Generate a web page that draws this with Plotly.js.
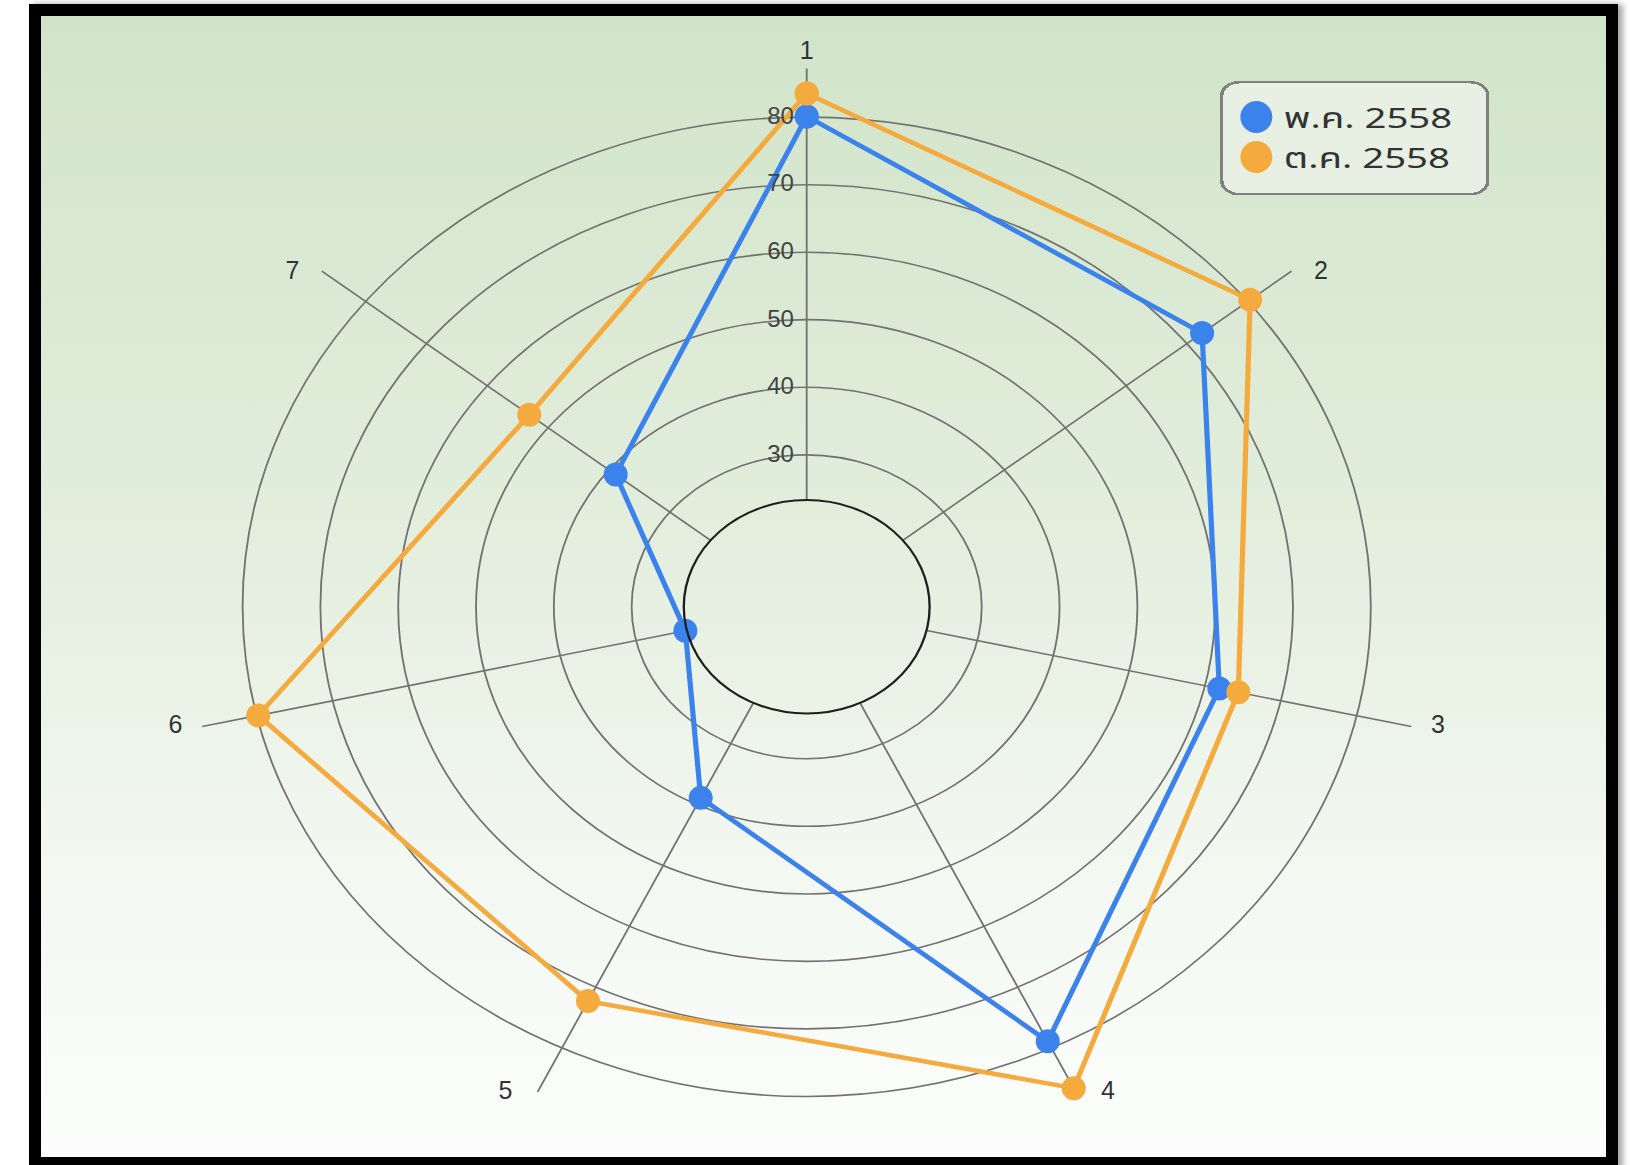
<!DOCTYPE html>
<html>
<head>
<meta charset="utf-8">
<script src="https://cdn.plot.ly/plotly-3.0.1.min.js"></script>
<style>
  html, body { margin: 0; padding: 0; background: #ffffff; width: 1630px; height: 1165px; overflow: hidden; }
  #frame {
    position: absolute; left: 29px; top: 4px; width: 1565px; height: 1141px;
    border: 12px solid #000;
    background: linear-gradient(to bottom, #d1e4c9 0%, #e3eedd 45%, #f3f8f1 75%, #fcfdfc 100%);
    box-shadow: 5px 0 6px rgba(0,0,0,0.35);
  }
  #chart { position: absolute; left: 0; top: 0; width: 1630px; height: 1165px; }
  .legend .legendlines { display: none; }
</style>
</head>
<body>
<div id="frame"></div>
<div id="chart"></div>
<script>
// ---- data ----
var categories = ['1', '2', '3', '4', '5', '6', '7'];
var seriesNames = ['พ.ค. 2558', 'ต.ค. 2558'];
var mayValues = [80.1, 72.5, 61.9, 78.9, 38.9, 23.5, 38.9];
var octValues = [83.5, 80.4, 64.4, 86.6, 72.3, 79.8, 53.1];
var radialTicks = [30, 40, 50, 60, 70, 80];

function closed(arr) { return arr.concat([arr[0]]); }

var W = 1630, H = 1165;
var polarDomainX = [0.16466, 0.82515];
var polarDomainY = [0.01708, 0.94120];
var holeDomainX = [0.42945, 0.56037];
var holeDomainY = [0.38755, 0.57073];
var stretchX = 1.152;      // horizontal stretch of the radar (elliptical look)
var legendStretch = 1.37;  // horizontal stretch of the legend text
// small on-screen nudges (px) for the tick labels
var labelNudge = [[0, -4], [21, 4], [18, -8], [24, -20], [-24, -20], [-18, -8], [-21, 4]];
var radialNudge = [-6, -1];

var gridColor = '#727272';
var blue = '#3b82ec', orange = '#f4aa3c';

var data = [
  {
    type: 'scatterpolar', subplot: 'polar',
    name: seriesNames[0],
    r: closed(mayValues), theta: closed(categories),
    mode: 'lines+markers', cliponaxis: false,
    line: { color: blue, width: 4.5 },
    marker: { color: blue, size: 24 }
  },
  {
    type: 'scatterpolar', subplot: 'polar',
    name: seriesNames[1],
    r: closed(octValues), theta: closed(categories),
    mode: 'lines+markers', cliponaxis: false,
    line: { color: orange, width: 4.5 },
    marker: { color: orange, size: 24 }
  },
  {
    type: 'scatterpolar', subplot: 'polar2',
    r: [], theta: [], showlegend: false, hoverinfo: 'skip'
  }
];

var layout = {
  width: W, height: H,
  margin: { l: 0, r: 0, t: 0, b: 0 },
  paper_bgcolor: 'rgba(0,0,0,0)',
  plot_bgcolor: 'rgba(0,0,0,0)',
  font: { family: '"Liberation Sans", Arial, sans-serif', color: '#333' },
  showlegend: true,
  legend: {
    x: 0.7485, y: 0.9305, xanchor: 'left', yanchor: 'top',
    bgcolor: '#e8f0e4', bordercolor: '#808080', borderwidth: 2.5,
    font: { size: 28, color: '#333', family: 'Tahoma, "Noto Sans Thai", "Noto Sans", "DejaVu Sans", sans-serif' },
    tracegroupgap: 0
  },
  polar: {
    domain: { x: polarDomainX, y: polarDomainY },
    bgcolor: 'rgba(0,0,0,0)',
    hole: 0.19822,
    radialaxis: {
      range: [23.3, 87.2],
      tickvals: radialTicks,
      ticktext: radialTicks.map(String),
      angle: 90, side: 'counterclockwise', tickangle: 90,
      showline: false, ticks: '',
      gridcolor: gridColor, gridwidth: 1.6,
      tickfont: { size: 24, color: '#444' }
    },
    angularaxis: {
      type: 'category', categoryarray: categories,
      rotation: 90, direction: 'clockwise',
      showline: false, ticks: '',
      gridcolor: gridColor, gridwidth: 1.6,
      tickfont: { size: 25, color: '#333' }
    }
  },
  polar2: {
    domain: { x: holeDomainX, y: holeDomainY },
    bgcolor: 'rgba(0,0,0,0)',
    radialaxis: { visible: false },
    angularaxis: {
      showline: true, linecolor: '#1e1e1e', linewidth: 2,
      showgrid: false, showticklabels: false, ticks: ''
    }
  }
};

function parseTranslate(s) {
  var m = /translate\(\s*([-\d.e]+)[ ,]+([-\d.e]+)\s*\)/.exec(s || '');
  return m ? [parseFloat(m[1]), parseFloat(m[2])] : [0, 0];
}
// convert an on-screen shift into the element's parent coordinate frame
function localDelta(el, dx, dy) {
  var m = el.parentNode.getCTM();
  var det = m.a * m.d - m.b * m.c;
  return [(m.d * dx - m.c * dy) / det, (-m.b * dx + m.a * dy) / det];
}

var gd = document.getElementById('chart');
Plotly.newPlot(gd, data, layout, { staticPlot: true, displayModeBar: false }).then(function () {
  var cx = (polarDomainX[0] + polarDomainX[1]) / 2 * W;
  var k = stretchX;
  var radialStrings = radialTicks.map(String);
  var pl = gd.querySelector('.polarlayer');
  if (pl) {
    pl.setAttribute('transform', 'translate(' + cx + ',0) scale(' + k + ',1) translate(' + (-cx) + ',0)');
    pl.querySelectorAll('text').forEach(function (t) {
      var b = t.getBBox();
      var c = b.x + b.width / 2;
      var old = t.getAttribute('transform') || '';
      var pre = '';
      var txt = (t.textContent || '').trim();
      var idx = categories.indexOf(txt);
      var nudge = null;
      if (idx >= 0) nudge = labelNudge[idx];
      else if (radialStrings.indexOf(txt) >= 0) nudge = radialNudge;
      if (nudge) {
        var d = localDelta(t, nudge[0], nudge[1]);
        pre = 'translate(' + d[0] + ',' + d[1] + ') ';
      }
      t.setAttribute('transform', pre + old + ' translate(' + c + ',0) scale(' + (1 / k) + ',1) translate(' + (-c) + ',0)');
    });
    pl.querySelectorAll('path.point').forEach(function (p) {
      var old = p.getAttribute('transform') || '';
      p.setAttribute('transform', old + ' scale(' + (1 / k) + ',1)');
    });
  }
  var lg = gd.querySelector('g.legend');
  if (lg) {
    var kl = legendStretch;
    lg.setAttribute('transform', (lg.getAttribute('transform') || '') + ' scale(' + kl + ',1)');
    var sb = lg.querySelector('g.scrollbox');
    if (sb) sb.removeAttribute('clip-path');
    var items = lg.querySelectorAll('g.traces');
    var rowTop = 36, rowGap = 40;
    items.forEach(function (it, i) {
      var tr = parseTranslate(it.getAttribute('transform'));
      it.setAttribute('transform', 'translate(' + (tr[0] + 4) + ',' + (rowTop + i * rowGap) + ')');
    });
    var bg = lg.querySelector('rect.bg');
    if (bg) {
      bg.setAttribute('height', 112);
      bg.setAttribute('width', 266 / kl);
      bg.setAttribute('rx', 13);
      bg.setAttribute('ry', 13);
    }
    lg.querySelectorAll('.legendpoints path.scatterpts').forEach(function (p) {
      var old = p.getAttribute('transform') || '';
      p.setAttribute('transform', old + ' scale(' + (2 / kl) + ',2)');
    });
  }
});
</script>
</body>
</html>
